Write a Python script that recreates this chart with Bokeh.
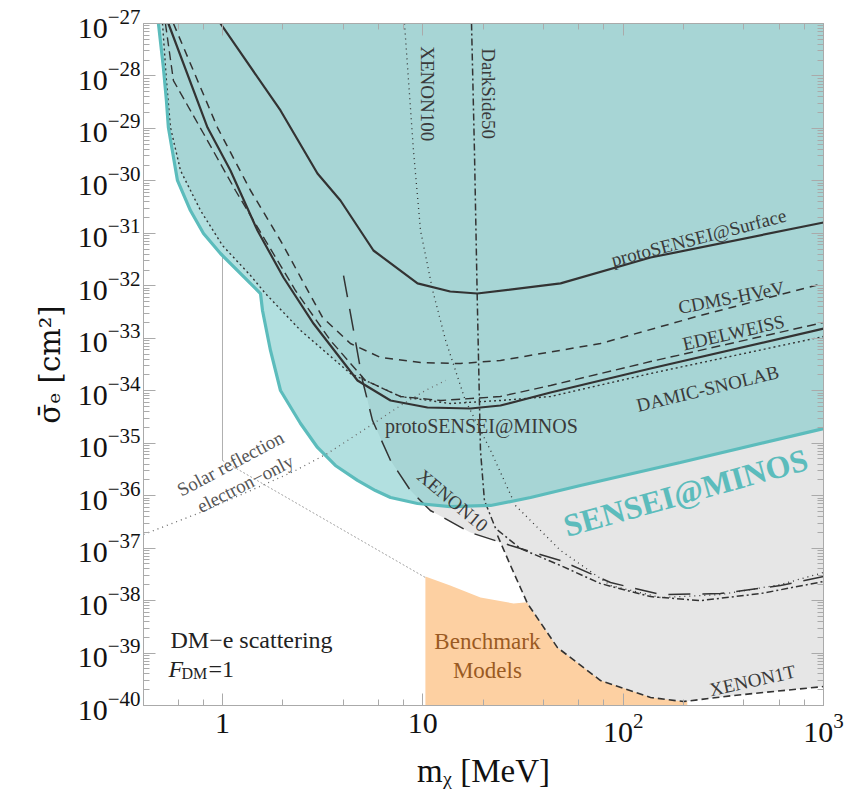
import numpy as np
from bokeh.plotting import figure
from bokeh.models import LogAxis, FixedTicker, LogTicker, Range1d
from bokeh.core.properties import value
from bokeh.embed import file_html
from bokeh.resources import INLINE

# ---------------- data (m_chi in MeV, sigma_e in cm^2) ----------------
sensei_m = [0.479, 0.507, 0.525, 0.537, 0.596, 0.692, 0.804, 0.977, 1.548, 1.584, 1.736, 1.948,
            2.452, 2.98, 3.66, 4.72, 5.80, 6.90, 9.41, 13.7, 21.8, 34.5, 61.2, 193, 1000]
sensei_s = [1e-27, 1.45e-28, 3.4e-29, 1.04e-29, 1.02e-30, 2.72e-31, 9.9e-32, 4.13e-32, 7.13e-33,
            3.38e-33, 5.85e-34, 1.01e-34, 2.37e-35, 8.28e-36, 3.76e-36, 1.95e-36, 1.25e-36, 9.2e-37,
            7.08e-37, 6.2e-37, 6.5e-37, 9.2e-37, 1.56e-36, 4.29e-36, 1.9e-35]

pminos_m = [0.537, 0.842, 1.096, 1.495, 2.016, 2.846, 4.72, 6.90, 10.55, 17.3, 24.4, 43.4, 137, 1000]
pminos_s = [1e-27, 1.04e-29, 1.58e-30, 1.13e-31, 1.44e-32, 1.91e-33, 1.57e-34, 6.52e-35, 4.79e-35,
            4.58e-35, 5.23e-35, 9.25e-35, 2.65e-34, 1.53e-33]

psurf_m = [0.977, 1.948, 2.98, 3.88, 5.67, 9.41, 13.7, 18.7, 48.7, 137, 1000]
psurf_s = [1e-27, 2.2e-29, 1.38e-30, 4.23e-31, 4.71e-32, 1.11e-32, 7.78e-33, 7.13e-33, 1.11e-32,
           3.46e-32, 1.61e-31]

cdms_m = [0.569, 0.944, 1.38, 1.948, 3.16, 4.35, 6.15, 9.74, 15.4, 24.4, 77.1, 243, 1000]
cdms_s = [1e-27, 1.04e-29, 6.56e-31, 7.3e-32, 2.49e-33, 7.94e-34, 4.3e-34, 3.45e-34, 3.3e-34,
          3.77e-34, 7.94e-34, 2.72e-33, 1.11e-32]

edw_m = [0.519, 0.569, 0.804, 1.161, 1.639, 2.314, 3.46, 5.17, 7.74, 12.3, 24.4, 43.4, 137, 1000]
edw_s = [1e-27, 8.18e-29, 8.0e-30, 6.56e-31, 7.3e-32, 8.13e-33, 9.06e-34, 1.57e-34, 7.76e-35,
         6.52e-35, 7.76e-35, 1.26e-34, 3.6e-34, 2.0e-33]

damic_m = [0.502, 0.525, 0.550, 0.617, 0.777, 1.0, 1.38, 1.639, 2.452, 4.35, 7.74, 13.7, 24.4,
           43.4, 137, 1000]
damic_s = [1e-27, 8.18e-29, 1.04e-29, 1.58e-30, 2.72e-31, 5.86e-32, 1.57e-32, 7.13e-33, 1.41e-33,
           2.13e-34, 7.76e-35, 5.7e-35, 6.52e-35, 7.76e-35, 2.13e-34, 1.08e-33]

x10_m = [4.02, 4.51, 5.0, 5.61, 6.90, 8.68, 10.9, 17.3, 27.4, 48.7, 86.5, 154, 306, 610, 1000]
x10_s = [1.57e-32, 1.41e-33, 1.57e-34, 2.7e-35, 4.68e-36, 1.25e-36, 5.21e-37, 1.98e-37, 1.12e-37,
         5.81e-38, 2.21e-38, 1.3e-38, 1.36e-38, 1.94e-38, 2.88e-38]

x100_m = [8.10, 8.98, 9.74, 11.2, 13.0, 16.3, 21.8, 29.0, 48.7, 86.5, 154, 306, 610, 1000]
x100_s = [1e-27, 3.79e-30, 1.13e-31, 8.13e-33, 9.06e-34, 6.52e-35, 7.24e-36, 6.49e-37, 9.0e-38,
          1.94e-38, 1.14e-38, 1.3e-38, 2.02e-38, 3.43e-38]

ds_m = [17.5, 18.1, 18.7, 19.4, 20.3, 23.1, 30.7, 48.7, 77.1, 137, 243, 485, 1000]
ds_s = [1e-27, 3.79e-30, 5.25e-33, 7.24e-36, 8.07e-37, 2.36e-37, 9.82e-38, 4.65e-38, 2.11e-38,
        1.19e-38, 1.0e-38, 1.36e-38, 2.31e-38]

x1t_m = [23.6, 27.4, 33.3, 47.0, 77.1, 137, 200, 356, 1000]
x1t_s = [1.74e-37, 4.65e-38, 8.8e-39, 1.27e-39, 2.99e-40, 1.42e-40, 1.19e-40, 1.55e-40, 2.3e-40]

solar_m = [0.4034, 0.777, 1.38, 2.262, 3.34, 5.48, 7.74, 10.3, 13.0]
solar_s = [1.82e-37, 4.78e-37, 1.25e-36, 2.88e-36, 6.35e-36, 2.17e-35, 5.23e-35, 1.01e-34, 1.57e-34]

bench_m = [10.3, 10.3, 13.7, 19.4, 28.4, 36.5, 77.1, 209, 209]
bench_s = [1e-40, 2.88e-38, 1.94e-38, 1.14e-38, 8.8e-39, 9.6e-39, 1.56e-38, 3.0e-38, 1e-40]

fi_vert_m = [1.0, 1.0]
fi_vert_s = [4.13e-32, 4.68e-36]
fi_diag_m = [1.0, 10.3]
fi_diag_s = [4.68e-36, 2.75e-38]

y_major = [1e-40, 1e-39, 1e-38, 1e-37, 1e-36, 1e-35, 1e-34, 1e-33, 1e-32, 1e-31, 1e-30,
           1e-29, 1e-28, 1e-27]
y_minor = [k * t for t in y_major[:-1] for k in range(2, 10)]

FONT = value("Liberation Serif")
LINE = "#333333"
TXT = "#3a3a3a"

p = figure(frame_width=680, frame_height=682, x_axis_type="log", y_axis_type="log",
           x_range=Range1d(0.4034, 1000), y_range=Range1d(1e-40, 1e-27),
           output_backend="svg", toolbar_location=None,
           min_border_left=143, min_border_right=23, min_border_top=23, min_border_bottom=88,
           background_fill_color="white", border_fill_color="white")
p.grid.grid_line_color = None
p.outline_line_color = "#aaaaaa"

# ---- fills ----
p.patch(bench_m, bench_s, fill_color="#fdd0a2", line_color=None)

# envelope of existing limits (gray region)
curves = [(damic_m, damic_s), (edw_m, edw_s), (cdms_m, cdms_s), (pminos_m, pminos_s),
          (psurf_m, psurf_s), (x10_m, x10_s), (x100_m, x100_s), (ds_m, ds_s), (x1t_m, x1t_s)]
lx = np.linspace(np.log10(min(c[0][0] for c in curves)), 3, 900)
env = np.full_like(lx, -27.0)
for cm, cs in curves:
    lm, ls = np.log10(cm), np.log10(cs)
    vals = np.interp(lx, lm, ls)
    mask = (lx >= lm[0]) & (lx <= lm[-1])
    env = np.where(mask, np.minimum(env, vals), env)
p.varea(x=10 ** lx, y1=10 ** env, y2=1e-27, fill_color="#e6e6e6")

p.varea(x=sensei_m, y1=sensei_s, y2=1e-27, fill_color="#70c6c6", fill_alpha=0.54)

# ---- lines ----
p.line(fi_vert_m, fi_vert_s, line_color="#b0b0b0", line_width=1)
p.line(fi_diag_m, fi_diag_s, line_color="#8a8a8a", line_width=0.8, line_dash="2 2")
p.line(solar_m, solar_s, line_color="#666666", line_width=1.3, line_dash="1 4")

p.line(damic_m, damic_s, line_color=LINE, line_width=1.4, line_dash="2 3")
p.line(edw_m, edw_s, line_color=LINE, line_width=1.4, line_dash="9 5")
p.line(cdms_m, cdms_s, line_color=LINE, line_width=1.5, line_dash="8 6")
p.line(pminos_m, pminos_s, line_color=LINE, line_width=2.2)
p.line(psurf_m, psurf_s, line_color=LINE, line_width=2.2)
p.line(x10_m, x10_s, line_color=LINE, line_width=1.5, line_dash="22 12")
p.line(x100_m, x100_s, line_color=LINE, line_width=1.3, line_dash="1 4")
p.line(ds_m, ds_s, line_color=LINE, line_width=1.5, line_dash="7 3 2 3")
p.line(x1t_m, x1t_s, line_color=LINE, line_width=1.6, line_dash="7 4")
p.line(sensei_m, sensei_s, line_color="#5cbcbc", line_width=3.2)

# ---- labels ----
def label(x, y, txt, ang=0.0, size="19px", color=TXT, style="normal", align="center"):
    p.text(x=[x], y=[y], text=[txt], angle=np.deg2rad(ang), text_font=FONT,
           text_font_size=size, text_color=color, text_font_style=style,
           text_align=align, text_baseline="middle")

label(10.55, 4.6e-29, "XENON100", -90)
label(21.3, 4.6e-29, "DarkSide50", -90)
label(238, 8.3e-32, "protoSENSEI@Surface", 14.6)
label(347, 6.0e-33, "CDMS-HVeV", 11)
label(355, 1.29e-33, "EDELWEISS", 13)
label(264, 1.1e-34, "DAMIC-SNOLAB", 13.6)
label(19.6, 2.17e-35, "protoSENSEI@MINOS", 0, size="20px")
label(205, 1.15e-36, "SENSEI@MINOS", 15.6, size="32px", color="#5cbcbc", style="bold")
label(14.1, 8.1e-37, "XENON10", -40)
label(442, 3.0e-40, "XENON1T", 12.5)
label(1.096, 4.1e-36, "Solar reflection", 28, color="#555555")
label(1.30, 1.7e-36, "electron\u2212only", 27, color="#555555")
label(21.0, 1.66e-39, "Benchmark", 0, size="23px", color="#9a5a22")
label(21.0, 4.6e-40, "Models", 0, size="23px", color="#9a5a22")
label(0.55, 1.81e-39, "DM\u2212e scattering", 0, size="24px", color="#222222", align="left")
p.text(x=[0.537], y=[5.07e-40], text=["F"], text_font=FONT, text_font_size="24px",
       text_font_style="italic", text_color="#222222", text_align="left", text_baseline="middle")
p.text(x=[0.537], y=[5.07e-40], text=["DM"], text_font=FONT, text_font_size="16px",
       text_color="#222222", text_align="left", text_baseline="middle", x_offset=13, y_offset=5)
p.text(x=[0.537], y=[5.07e-40], text=["=1"], text_font=FONT, text_font_size="24px",
       text_color="#222222", text_align="left", text_baseline="middle", x_offset=40)

# ---- axes ----
yt = FixedTicker(ticks=y_major, minor_ticks=y_minor)
p.yaxis.ticker = yt
p.xaxis.ticker = LogTicker()
p.xaxis.major_label_overrides = {1: "1", 10: "10"}

def style(ax):
    ax.axis_line_color = "#aaaaaa"
    ax.major_tick_line_color = "#aaaaaa"
    ax.minor_tick_line_color = "#aaaaaa"
    ax.major_tick_in = 12
    ax.major_tick_out = 0
    ax.minor_tick_in = 6
    ax.minor_tick_out = 0
    ax.major_label_text_font = "Liberation Serif"
    ax.major_label_text_font_size = "30px"
    ax.major_label_text_color = "#111111"
    ax.axis_label_text_font = "Liberation Serif"
    ax.axis_label_text_font_size = "33px"
    ax.axis_label_text_font_style = "normal"
    ax.axis_label_text_color = "#111111"

for ax in p.xaxis + p.yaxis:
    style(ax)
p.yaxis.major_label_standoff = 3
p.xaxis.major_label_standoff = 8
p.yaxis.axis_label = "\u03c3\u0304\u2091 [cm\u00b2]"
p.yaxis.axis_label_text_font = "DejaVu Serif"
p.yaxis.axis_label_text_font_size = "29px"
p.xaxis.axis_label = "m\u1d6a [MeV]"
p.yaxis.axis_label_standoff = 8
p.xaxis.axis_label_standoff = 8

ra = LogAxis(ticker=yt)
ta = LogAxis(ticker=LogTicker())
for ax in (ra, ta):
    style(ax)
    ax.major_label_text_font_size = "0px"
    ax.major_label_text_color = None
    ax.major_label_standoff = 0
p.add_layout(ra, "right")
p.add_layout(ta, "above")

open("out.html", "w").write(file_html(p, INLINE))
